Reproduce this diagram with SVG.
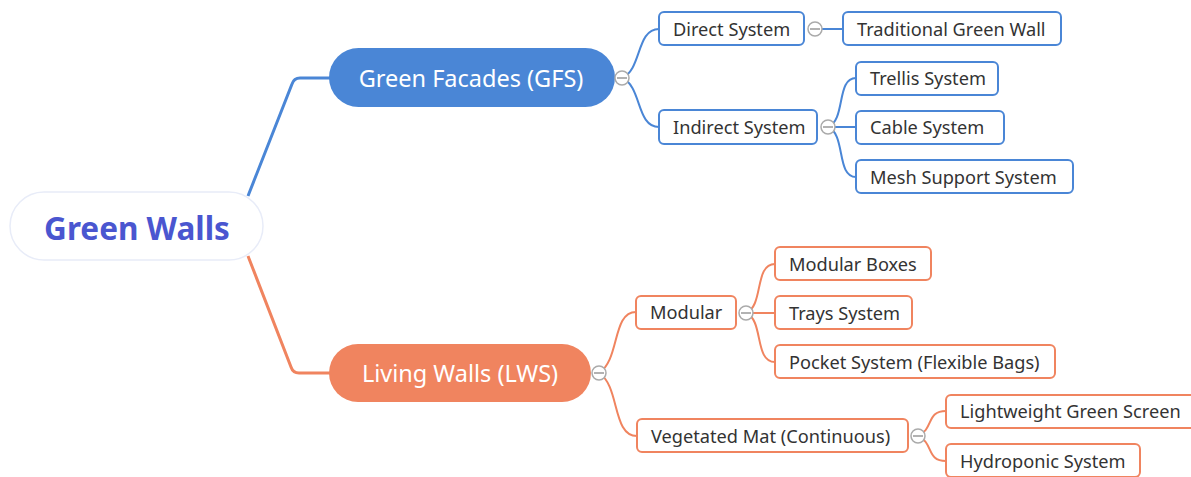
<svg xmlns="http://www.w3.org/2000/svg" width="1191" height="477" viewBox="0 0 1191 477">
<style>
.b{fill:#fff;stroke:#4a86d6;stroke-width:2}
.o{fill:#fff;stroke:#f0845f;stroke-width:2}
.t{font-family:"Noto Sans","Open Sans",sans-serif;font-size:18.2px;fill:#333;dominant-baseline:central}
.m{font-family:"Noto Sans","Open Sans",sans-serif;font-size:23.5px;fill:#fff;text-anchor:middle;dominant-baseline:central}
.cb{fill:none;stroke:#4a86d6;stroke-width:2}
.co{fill:none;stroke:#f0845f;stroke-width:2}
.l1{stroke-width:3}
.tg{fill:#fff;stroke:#aaa;stroke-width:1.5}
.tm{stroke:#999;stroke-width:1.5}
</style>
<rect width="1191" height="477" fill="#fff"/>
<g id="connectors">
<path class="cb l1" d="M248,196 L292,84 Q294,78 300,78 L330,78"/>
<path class="co l1" d="M248,256 L291,367 Q293,373 299,373 L330,373"/>
<path class="cb" d="M622,78 C642,70 636,29 659,29"/>
<path class="cb" d="M622,78 C642,86 636,127 659,127"/>
<path class="cb" d="M815,29 L843,29"/>
<path class="cb" d="M828,127 C846,120 836,78 856,78"/>
<path class="cb" d="M828,127 L856,127"/>
<path class="cb" d="M828,127 C846,134 836,177 856,177"/>
<path class="co" d="M599,373 C620,360 612,312 636,312"/>
<path class="co" d="M599,373 C620,386 612,436 637,436"/>
<path class="co" d="M746,313 C764,306 754,264 775,264"/>
<path class="co" d="M746,313 L775,313"/>
<path class="co" d="M746,313 C764,320 754,362 775,362"/>
<path class="co" d="M918,436 C934,429 926,411 946,411"/>
<path class="co" d="M918,436 C934,443 926,461 946,461"/>
</g>
<g id="root">
<rect x="10" y="192" width="253" height="68" rx="34" fill="#fff" stroke="#e8ecf8" stroke-width="1.5"/>
<text x="137" y="227" font-family="'Noto Sans','Open Sans',sans-serif" font-size="31.5" font-weight="bold" fill="#4a56d0" text-anchor="middle" dominant-baseline="central">Green Walls</text>
</g>
<g id="gfs">
<rect x="329" y="48" width="286" height="59" rx="29.5" fill="#4a86d6"/>
<text class="m" x="471" y="78">Green Facades (GFS)</text>
<circle class="tg" cx="622" cy="78" r="7"/><line class="tm" x1="617" y1="78" x2="627" y2="78"/>
</g>
<g id="lws">
<rect x="329" y="344" width="262" height="58" rx="29" fill="#f0845f"/>
<text class="m" x="460" y="373">Living Walls (LWS)</text>
<circle class="tg" cx="599" cy="373" r="7"/><line class="tm" x1="594" y1="373" x2="604" y2="373"/>
</g>
<g id="direct">
<rect class="b" x="659" y="12" width="145" height="33" rx="5"/>
<text class="t" x="673" y="29">Direct System</text>
<circle class="tg" cx="815" cy="29" r="7"/><line class="tm" x1="810" y1="29" x2="820" y2="29"/>
</g>
<g id="traditional">
<rect class="b" x="843" y="12" width="218" height="33" rx="5"/>
<text class="t" x="857" y="29">Traditional Green Wall</text>
</g>
<g id="indirect">
<rect class="b" x="659" y="110" width="158" height="34" rx="5"/>
<text class="t" x="673" y="127">Indirect System</text>
<circle class="tg" cx="828" cy="127" r="7"/><line class="tm" x1="823" y1="127" x2="833" y2="127"/>
</g>
<g id="trellis">
<rect class="b" x="856" y="62" width="142" height="33" rx="5"/>
<text class="t" x="870" y="78">Trellis System</text>
</g>
<g id="cable">
<rect class="b" x="856" y="111" width="148" height="33" rx="5"/>
<text class="t" x="870" y="127">Cable System</text>
</g>
<g id="mesh">
<rect class="b" x="856" y="160" width="217" height="33" rx="5"/>
<text class="t" x="870" y="177">Mesh Support System</text>
</g>
<g id="modular">
<rect class="o" x="636" y="296" width="100" height="33" rx="5"/>
<text class="t" x="650" y="312">Modular</text>
<circle class="tg" cx="746" cy="313" r="7"/><line class="tm" x1="741" y1="313" x2="751" y2="313"/>
</g>
<g id="modularboxes">
<rect class="o" x="775" y="247" width="156" height="33" rx="5"/>
<text class="t" x="789" y="264">Modular Boxes</text>
</g>
<g id="trays">
<rect class="o" x="775" y="296" width="137" height="33" rx="5"/>
<text class="t" x="789" y="313">Trays System</text>
</g>
<g id="pocket">
<rect class="o" x="775" y="345" width="280" height="33" rx="5"/>
<text class="t" x="789" y="362">Pocket System (Flexible Bags)</text>
</g>
<g id="vegetated">
<rect class="o" x="637" y="419" width="271" height="33" rx="5"/>
<text class="t" x="651" y="436">Vegetated Mat (Continuous)</text>
<circle class="tg" cx="918" cy="436" r="7"/><line class="tm" x1="913" y1="436" x2="923" y2="436"/>
</g>
<g id="lightweight">
<rect class="o" x="946" y="395" width="250" height="33" rx="5"/>
<text class="t" x="960" y="411">Lightweight Green Screen</text>
</g>
<g id="hydroponic">
<rect class="o" x="946" y="444" width="194" height="33" rx="5"/>
<text class="t" x="960" y="461">Hydroponic System</text>
</g>
</svg>
